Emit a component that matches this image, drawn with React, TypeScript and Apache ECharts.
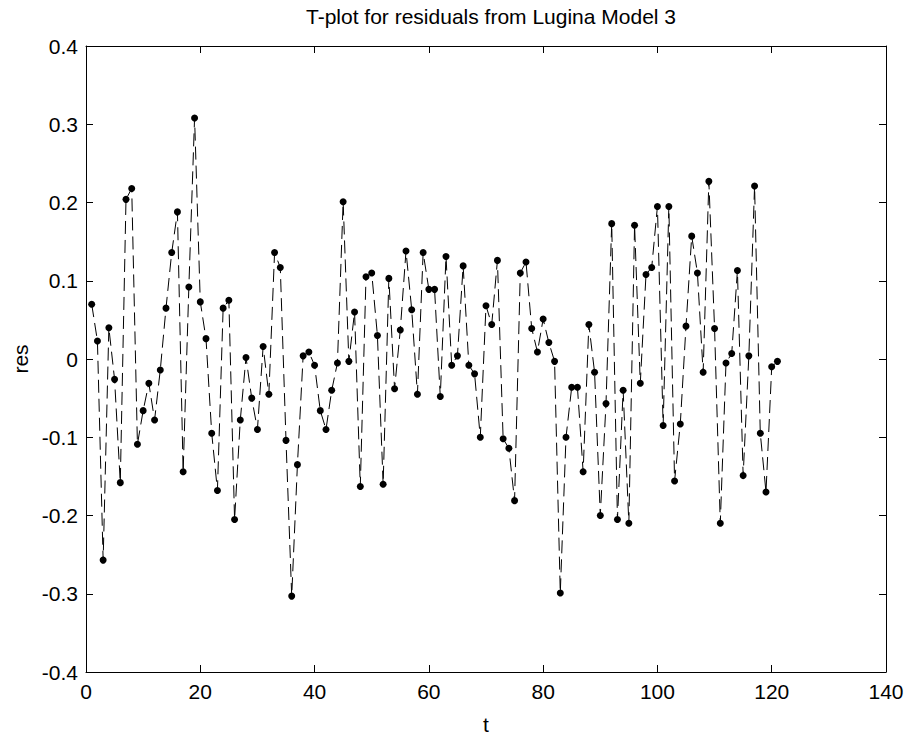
import React, { useEffect, useRef } from "react";
import * as echarts from "echarts";

const titleText = "T-plot for residuals from Lugina Model 3";
const xName = "t";
const yName = "res";

const xTicks = [0, 20, 40, 60, 80, 100, 120, 140];
const yTicks = [-0.4, -0.3, -0.2, -0.1, 0, 0.1, 0.2, 0.3, 0.4];

// residuals for t = 1 .. 121
const residuals = [
  0.070, 0.023, -0.257, 0.040, -0.026, -0.158, 0.204, 0.218, -0.109, -0.066,
  -0.031, -0.078, -0.014, 0.065, 0.136, 0.188, -0.144, 0.092, 0.308, 0.073,
  0.026, -0.095, -0.168, 0.065, 0.075, -0.205, -0.078, 0.002, -0.050, -0.090,
  0.016, -0.045, 0.136, 0.117, -0.104, -0.303, -0.135, 0.004, 0.009, -0.008,
  -0.066, -0.090, -0.040, -0.005, 0.201, -0.003, 0.060, -0.163, 0.105, 0.110,
  0.030, -0.160, 0.103, -0.038, 0.037, 0.138, 0.063, -0.045, 0.136, 0.089,
  0.089, -0.048, 0.131, -0.008, 0.004, 0.119, -0.008, -0.019, -0.100, 0.068,
  0.044, 0.126, -0.102, -0.114, -0.181, 0.110, 0.124, 0.039, 0.009, 0.051,
  0.021, -0.003, -0.299, -0.100, -0.036, -0.036, -0.144, 0.044, -0.017, -0.200,
  -0.057, 0.173, -0.205, -0.040, -0.210, 0.171, -0.031, 0.108, 0.117, 0.195,
  -0.085, 0.195, -0.156, -0.083, 0.042, 0.157, 0.110, -0.017, 0.227, 0.039,
  -0.210, -0.005, 0.007, 0.113, -0.149, 0.004, 0.221, -0.095, -0.170, -0.010,
  -0.003,
];

const FONT = "'Liberation Sans', Arial, Helvetica, sans-serif";

function fmtY(v: number) {
  const r = Math.round(v * 10) / 10;
  return r === 0 ? "0" : String(r);
}

export default function App() {
  const ref = useRef<HTMLDivElement>(null);
  useEffect(() => {
    if (!ref.current) return;
    const chart = echarts.init(ref.current, undefined, { renderer: "svg" });
    const xMin = xTicks[0];
    const xMax = xTicks[xTicks.length - 1];
    const xInt = xTicks[1] - xTicks[0];
    const yMin = yTicks[0];
    const yMax = yTicks[yTicks.length - 1];
    const yInt = 0.1;
    const axisLine = { show: true, onZero: false, lineStyle: { color: "#000", width: 1 } };
    const tick = { show: true, inside: true, length: 7, lineStyle: { color: "#000", width: 1 } };
    chart.setOption({
      animation: false,
      backgroundColor: "#fff",
      title: {
        text: titleText,
        left: 486,
        textAlign: "center",
        top: 1,
        textStyle: { fontFamily: FONT, fontSize: 21, fontWeight: "normal", color: "#000" },
      },
      grid: { left: 86, top: 46, right: 24, bottom: 62, containLabel: false },
      xAxis: [
        {
          type: "value",
          position: "bottom",
          min: xMin,
          max: xMax,
          interval: xInt,
          axisLine,
          axisTick: tick,
          splitLine: { show: false },
          axisLabel: { margin: 9, fontFamily: FONT, fontSize: 21, color: "#000" },
          name: xName,
          nameLocation: "middle",
          nameGap: 42,
          nameTextStyle: { fontFamily: FONT, fontSize: 21, color: "#000" },
        },
        {
          type: "value",
          position: "top",
          min: xMin,
          max: xMax,
          interval: xInt,
          axisLine,
          axisTick: tick,
          splitLine: { show: false },
          axisLabel: { show: false },
        },
      ],
      yAxis: [
        {
          type: "value",
          position: "left",
          min: yMin,
          max: yMax,
          interval: yInt,
          axisLine,
          axisTick: tick,
          splitLine: { show: false },
          axisLabel: { margin: 8, fontFamily: FONT, fontSize: 21, color: "#000", formatter: fmtY },
          name: yName,
          nameLocation: "middle",
          nameGap: 48,
          nameTextStyle: { fontFamily: FONT, fontSize: 21, color: "#000" },
        },
        {
          type: "value",
          position: "right",
          min: yMin,
          max: yMax,
          interval: yInt,
          axisLine,
          axisTick: tick,
          splitLine: { show: false },
          axisLabel: { show: false },
        },
      ],
      series: [
        {
          type: "line",
          xAxisIndex: 0,
          yAxisIndex: 0,
          data: residuals.map((v, i) => [i + 1, v]),
          symbol: "circle",
          symbolSize: 7,
          showSymbol: true,
          itemStyle: { color: "#000", borderWidth: 0 },
          lineStyle: { color: "#000", width: 1, type: [13, 6] },
          emphasis: { disabled: true },
        },
      ],
    });
    return () => chart.dispose();
  }, []);
  return (
    <div
      ref={ref}
      style={{ position: "fixed", left: 0, top: 0, width: 910, height: 740, background: "#fff" }}
    />
  );
}
